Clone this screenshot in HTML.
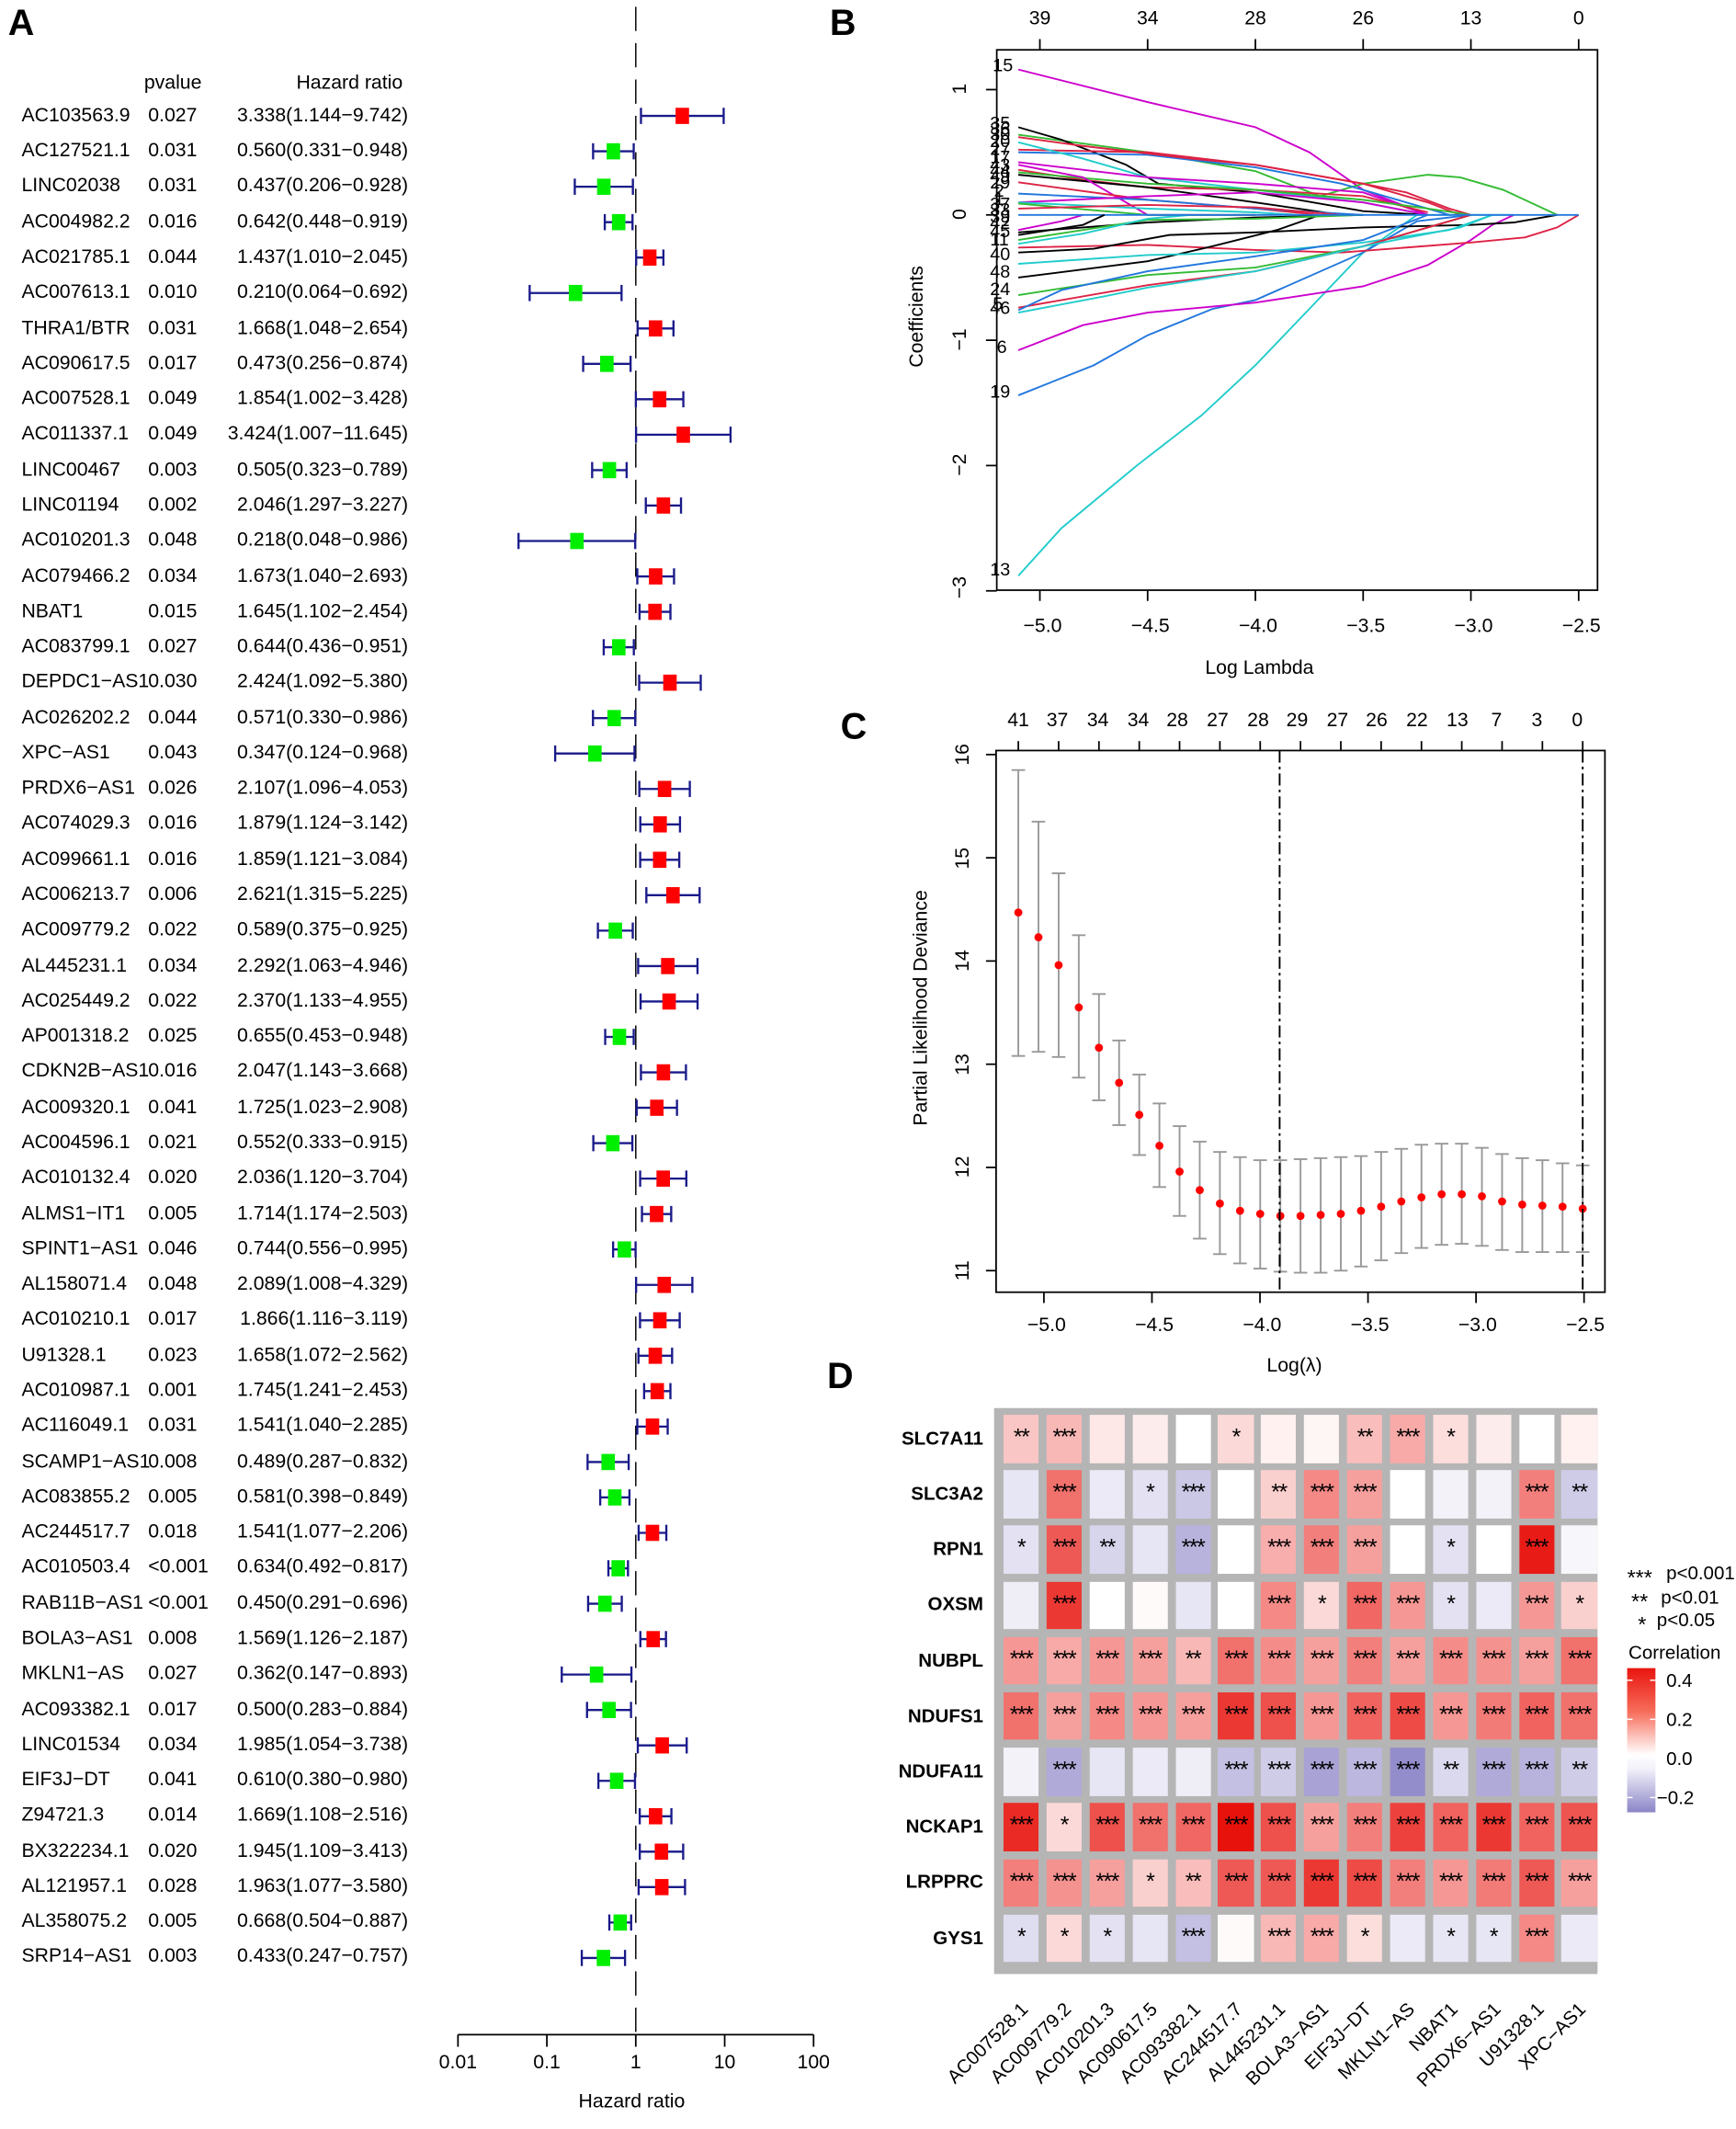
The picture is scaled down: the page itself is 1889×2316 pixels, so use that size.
<!DOCTYPE html>
<html><head><meta charset="utf-8">
<style>
html,body{margin:0;padding:0;background:#fff;}
body{width:1889px;height:2296px;overflow:hidden;position:relative;}
#pg{position:absolute;left:0;top:0;width:1300px;height:1580px;transform:scale(1.4657,1.4658);transform-origin:0 0;font-family:"Liberation Sans",Arial,sans-serif;color:#000;}
svg{position:absolute;left:0;top:0;}
#rows{position:absolute;left:0;top:72.85px;font-size:14.5px;}
#rows div{height:26.29px;line-height:26.29px;position:relative;white-space:nowrap;}
#rows span{position:absolute;}
#rows .n{left:16px;}
#rows .p{left:110px;}
#rows .h{right:-303px;}
.lbl{position:absolute;font-weight:bold;font-size:27px;}
#hm{position:absolute;left:738px;top:1045px;width:448px;height:420px;background:#b5b5b5;box-sizing:border-box;padding:5px 0 0 7px;display:grid;grid-template-columns:repeat(14,26.2px);grid-template-rows:repeat(10,35.5px);column-gap:5.7px;row-gap:5.7px;}
#hm i{font-style:normal;display:block;text-align:center;font-size:17px;line-height:34px;background:#fff;letter-spacing:-1px;overflow:hidden;}
.rl{position:absolute;right:570px;font-weight:bold;font-size:14px;width:120px;text-align:right;}
</style></head><body><div id="pg">
<svg id="sv" width="1300" height="1580" viewBox="0 0 1300 1580" font-family="Liberation Sans, Arial, sans-serif">
<g stroke="#000" stroke-width="1.2" fill="none">
<line x1="340" y1="1510" x2="604" y2="1510"/>
<line x1="340" y1="1510" x2="340" y2="1519"/><line x1="406" y1="1510" x2="406" y2="1519"/><line x1="472" y1="1510" x2="472" y2="1519"/><line x1="538" y1="1510" x2="538" y2="1519"/><line x1="604" y1="1510" x2="604" y2="1519"/>
<line x1="472" y1="5" x2="472" y2="1510" stroke-dasharray="18,9" stroke-width="1"/>
</g>
<g font-size="14.5" text-anchor="middle">
<text x="340" y="1535">0.01</text><text x="406" y="1535">0.1</text><text x="472" y="1535">1</text><text x="538" y="1535">10</text><text x="604" y="1535">100</text>
<text x="469" y="1564">Hazard ratio</text>
</g>
<text x="107" y="66" font-size="14.5">pvalue</text>
<text x="220" y="66" font-size="14.5">Hazard ratio</text>
<g id="forest"></g>

<rect x="740" y="37" width="446" height="401" fill="none" stroke="#000" stroke-width="1.2"/>
<g id="bl" fill="none" stroke-width="1.3"></g>
<g id="bt" stroke="#000" stroke-width="1.2"></g>
<g font-size="14.5" text-anchor="middle">
<text x="772" y="18">39</text><text x="852" y="18">34</text><text x="932" y="18">28</text><text x="1012" y="18">26</text><text x="1092" y="18">13</text><text x="1172" y="18">0</text>
<text x="774" y="469">−5.0</text><text x="854" y="469">−4.5</text><text x="934" y="469">−4.0</text><text x="1014" y="469">−3.5</text><text x="1094" y="469">−3.0</text><text x="1174" y="469">−2.5</text>
<text x="935" y="500">Log Lambda</text>
<text transform="translate(717,66) rotate(-90)">1</text>
<text transform="translate(717,159) rotate(-90)">0</text>
<text transform="translate(717,252) rotate(-90)">−1</text>
<text transform="translate(717,345) rotate(-90)">−2</text>
<text transform="translate(717,436) rotate(-90)">−3</text>
<text transform="translate(685,235) rotate(-90)">Coefficients</text>
</g>
<g font-size="13.5" id="blab">
<text x="737" y="53">15</text>
<text x="735" y="96">35</text><text x="735" y="100">36</text><text x="735" y="104">30</text><text x="735" y="109">20</text><text x="735" y="115">27</text><text x="735" y="121">17</text><text x="735" y="127">43</text><text x="735" y="131">44</text><text x="735" y="135">49</text><text x="735" y="140">29</text><text x="738" y="146">2</text><text x="738" y="152">1</text><text x="735" y="156">37</text><text x="735" y="160">33</text><text x="735" y="165">39</text><text x="735" y="170">42</text><text x="735" y="176">45</text><text x="735" y="182">11</text><text x="735" y="193">40</text><text x="735" y="206">48</text><text x="735" y="219">24</text><text x="737" y="230">5</text><text x="735" y="233">46</text><text x="740" y="262">6</text><text x="735" y="295">19</text><text x="735" y="427">13</text>
</g>

<rect x="739.5" y="557" width="452" height="402" fill="none" stroke="#000" stroke-width="1.2"/>
<g id="ct" stroke="#000" stroke-width="1.2"></g>
<g id="cp"></g>
<line x1="950" y1="557" x2="950" y2="959" stroke="#000" stroke-width="1.3" stroke-dasharray="9,3,2,3"/>
<line x1="1175" y1="557" x2="1175" y2="959" stroke="#000" stroke-width="1.3" stroke-dasharray="9,3,2,3"/>
<g font-size="14.5" text-anchor="middle">
<text x="756" y="539">41</text><text x="785" y="539">37</text><text x="815" y="539">34</text><text x="845" y="539">34</text><text x="874" y="539">28</text><text x="904" y="539">27</text><text x="934" y="539">28</text><text x="963" y="539">29</text><text x="993" y="539">27</text><text x="1022" y="539">26</text><text x="1052" y="539">22</text><text x="1082" y="539">13</text><text x="1111" y="539">7</text><text x="1141" y="539">3</text><text x="1171" y="539">0</text>
<text x="777" y="988">−5.0</text><text x="857" y="988">−4.5</text><text x="937" y="988">−4.0</text><text x="1017" y="988">−3.5</text><text x="1097" y="988">−3.0</text><text x="1177" y="988">−2.5</text>
<text x="961" y="1018">Log(λ)</text>
<text transform="translate(719,560) rotate(-90)">16</text>
<text transform="translate(719,637) rotate(-90)">15</text>
<text transform="translate(719,713) rotate(-90)">14</text>
<text transform="translate(719,790) rotate(-90)">13</text>
<text transform="translate(719,866) rotate(-90)">12</text>
<text transform="translate(719,943) rotate(-90)">11</text>
<text transform="translate(688,748) rotate(-90)">Partial Likelihood Deviance</text>
</g>

<g font-size="14">
<text x="1208" y="1176" font-size="16">***</text><text x="1237" y="1172">p&lt;0.001</text>
<text x="1211" y="1194" font-size="16">**</text><text x="1233" y="1190">p&lt;0.01</text>
<text x="1216" y="1211" font-size="16">*</text><text x="1230" y="1207">p&lt;0.05</text>
<text x="1209" y="1231">Correlation</text>
<text x="1237" y="1252">0.4</text><text x="1237" y="1281">0.2</text><text x="1237" y="1310">0.0</text><text x="1230" y="1339">−0.2</text>
</g>
<defs><linearGradient id="cb" x1="0" y1="0" x2="0" y2="1">
<stop offset="0" stop-color="#e8150f"/><stop offset="0.3" stop-color="#f76c5a"/><stop offset="0.6" stop-color="#fff"/><stop offset="0.7" stop-color="#f2f1fa"/><stop offset="1" stop-color="#8b85c7"/>
</linearGradient></defs>
<rect x="1208" y="1238" width="21" height="107" fill="url(#cb)"/>
<g stroke="#fff" stroke-width="1"><line x1="1208" y1="1247" x2="1212" y2="1247"/><line x1="1225" y1="1247" x2="1229" y2="1247"/><line x1="1208" y1="1276" x2="1212" y2="1276"/><line x1="1225" y1="1276" x2="1229" y2="1276"/><line x1="1208" y1="1305" x2="1212" y2="1305"/><line x1="1225" y1="1305" x2="1229" y2="1305"/><line x1="1208" y1="1334" x2="1212" y2="1334"/><line x1="1225" y1="1334" x2="1229" y2="1334"/></g>
<g font-size="14" text-anchor="end">
<text transform="translate(764,1492) rotate(-45)">AC007528.1</text>
<text transform="translate(796,1492) rotate(-45)">AC009779.2</text>
<text transform="translate(828,1492) rotate(-45)">AC010201.3</text>
<text transform="translate(860,1492) rotate(-45)">AC090617.5</text>
<text transform="translate(892,1492) rotate(-45)">AC093382.1</text>
<text transform="translate(923,1492) rotate(-45)">AC244517.7</text>
<text transform="translate(955,1492) rotate(-45)">AL445231.1</text>
<text transform="translate(987,1492) rotate(-45)">BOLA3−AS1</text>
<text transform="translate(1019,1492) rotate(-45)">EIF3J−DT</text>
<text transform="translate(1051,1492) rotate(-45)">MKLN1−AS</text>
<text transform="translate(1083,1492) rotate(-45)">NBAT1</text>
<text transform="translate(1115,1492) rotate(-45)">PRDX6−AS1</text>
<text transform="translate(1147,1492) rotate(-45)">U91328.1</text>
<text transform="translate(1178,1492) rotate(-45)">XPC−AS1</text>
</g>
</svg>

<div class="lbl" style="left:6px;top:2px">A</div>
<div class="lbl" style="left:616px;top:2px">B</div>
<div class="lbl" style="left:624px;top:524px">C</div>
<div class="lbl" style="left:614px;top:1006px">D</div>

<div id="rows">
<div><span class="n">AC103563.9</span><span class="p">0.027</span><span class="h">3.338(1.144−9.742)</span></div>
<div><span class="n">AC127521.1</span><span class="p">0.031</span><span class="h">0.560(0.331−0.948)</span></div>
<div><span class="n">LINC02038</span><span class="p">0.031</span><span class="h">0.437(0.206−0.928)</span></div>
<div><span class="n">AC004982.2</span><span class="p">0.016</span><span class="h">0.642(0.448−0.919)</span></div>
<div><span class="n">AC021785.1</span><span class="p">0.044</span><span class="h">1.437(1.010−2.045)</span></div>
<div><span class="n">AC007613.1</span><span class="p">0.010</span><span class="h">0.210(0.064−0.692)</span></div>
<div><span class="n">THRA1/BTR</span><span class="p">0.031</span><span class="h">1.668(1.048−2.654)</span></div>
<div><span class="n">AC090617.5</span><span class="p">0.017</span><span class="h">0.473(0.256−0.874)</span></div>
<div><span class="n">AC007528.1</span><span class="p">0.049</span><span class="h">1.854(1.002−3.428)</span></div>
<div><span class="n">AC011337.1</span><span class="p">0.049</span><span class="h">3.424(1.007−11.645)</span></div>
<div><span class="n">LINC00467</span><span class="p">0.003</span><span class="h">0.505(0.323−0.789)</span></div>
<div><span class="n">LINC01194</span><span class="p">0.002</span><span class="h">2.046(1.297−3.227)</span></div>
<div><span class="n">AC010201.3</span><span class="p">0.048</span><span class="h">0.218(0.048−0.986)</span></div>
<div><span class="n">AC079466.2</span><span class="p">0.034</span><span class="h">1.673(1.040−2.693)</span></div>
<div><span class="n">NBAT1</span><span class="p">0.015</span><span class="h">1.645(1.102−2.454)</span></div>
<div><span class="n">AC083799.1</span><span class="p">0.027</span><span class="h">0.644(0.436−0.951)</span></div>
<div><span class="n">DEPDC1−AS1</span><span class="p">0.030</span><span class="h">2.424(1.092−5.380)</span></div>
<div><span class="n">AC026202.2</span><span class="p">0.044</span><span class="h">0.571(0.330−0.986)</span></div>
<div><span class="n">XPC−AS1</span><span class="p">0.043</span><span class="h">0.347(0.124−0.968)</span></div>
<div><span class="n">PRDX6−AS1</span><span class="p">0.026</span><span class="h">2.107(1.096−4.053)</span></div>
<div><span class="n">AC074029.3</span><span class="p">0.016</span><span class="h">1.879(1.124−3.142)</span></div>
<div><span class="n">AC099661.1</span><span class="p">0.016</span><span class="h">1.859(1.121−3.084)</span></div>
<div><span class="n">AC006213.7</span><span class="p">0.006</span><span class="h">2.621(1.315−5.225)</span></div>
<div><span class="n">AC009779.2</span><span class="p">0.022</span><span class="h">0.589(0.375−0.925)</span></div>
<div><span class="n">AL445231.1</span><span class="p">0.034</span><span class="h">2.292(1.063−4.946)</span></div>
<div><span class="n">AC025449.2</span><span class="p">0.022</span><span class="h">2.370(1.133−4.955)</span></div>
<div><span class="n">AP001318.2</span><span class="p">0.025</span><span class="h">0.655(0.453−0.948)</span></div>
<div><span class="n">CDKN2B−AS1</span><span class="p">0.016</span><span class="h">2.047(1.143−3.668)</span></div>
<div><span class="n">AC009320.1</span><span class="p">0.041</span><span class="h">1.725(1.023−2.908)</span></div>
<div><span class="n">AC004596.1</span><span class="p">0.021</span><span class="h">0.552(0.333−0.915)</span></div>
<div><span class="n">AC010132.4</span><span class="p">0.020</span><span class="h">2.036(1.120−3.704)</span></div>
<div><span class="n">ALMS1−IT1</span><span class="p">0.005</span><span class="h">1.714(1.174−2.503)</span></div>
<div><span class="n">SPINT1−AS1</span><span class="p">0.046</span><span class="h">0.744(0.556−0.995)</span></div>
<div><span class="n">AL158071.4</span><span class="p">0.048</span><span class="h">2.089(1.008−4.329)</span></div>
<div><span class="n">AC010210.1</span><span class="p">0.017</span><span class="h">1.866(1.116−3.119)</span></div>
<div><span class="n">U91328.1</span><span class="p">0.023</span><span class="h">1.658(1.072−2.562)</span></div>
<div><span class="n">AC010987.1</span><span class="p">0.001</span><span class="h">1.745(1.241−2.453)</span></div>
<div><span class="n">AC116049.1</span><span class="p">0.031</span><span class="h">1.541(1.040−2.285)</span></div>
<div><span class="n">SCAMP1−AS1</span><span class="p">0.008</span><span class="h">0.489(0.287−0.832)</span></div>
<div><span class="n">AC083855.2</span><span class="p">0.005</span><span class="h">0.581(0.398−0.849)</span></div>
<div><span class="n">AC244517.7</span><span class="p">0.018</span><span class="h">1.541(1.077−2.206)</span></div>
<div><span class="n">AC010503.4</span><span class="p">&lt;0.001</span><span class="h">0.634(0.492−0.817)</span></div>
<div><span class="n">RAB11B−AS1</span><span class="p">&lt;0.001</span><span class="h">0.450(0.291−0.696)</span></div>
<div><span class="n">BOLA3−AS1</span><span class="p">0.008</span><span class="h">1.569(1.126−2.187)</span></div>
<div><span class="n">MKLN1−AS</span><span class="p">0.027</span><span class="h">0.362(0.147−0.893)</span></div>
<div><span class="n">AC093382.1</span><span class="p">0.017</span><span class="h">0.500(0.283−0.884)</span></div>
<div><span class="n">LINC01534</span><span class="p">0.034</span><span class="h">1.985(1.054−3.738)</span></div>
<div><span class="n">EIF3J−DT</span><span class="p">0.041</span><span class="h">0.610(0.380−0.980)</span></div>
<div><span class="n">Z94721.3</span><span class="p">0.014</span><span class="h">1.669(1.108−2.516)</span></div>
<div><span class="n">BX322234.1</span><span class="p">0.020</span><span class="h">1.945(1.109−3.413)</span></div>
<div><span class="n">AL121957.1</span><span class="p">0.028</span><span class="h">1.963(1.077−3.580)</span></div>
<div><span class="n">AL358075.2</span><span class="p">0.005</span><span class="h">0.668(0.504−0.887)</span></div>
<div><span class="n">SRP14−AS1</span><span class="p">0.003</span><span class="h">0.433(0.247−0.757)</span></div>
</div>

<div class="rl" style="top:1059px">SLC7A11</div>
<div class="rl" style="top:1100px">SLC3A2</div>
<div class="rl" style="top:1141px">RPN1</div>
<div class="rl" style="top:1182px">OXSM</div>
<div class="rl" style="top:1224px">NUBPL</div>
<div class="rl" style="top:1265px">NDUFS1</div>
<div class="rl" style="top:1306px">NDUFA11</div>
<div class="rl" style="top:1347px">NCKAP1</div>
<div class="rl" style="top:1388px">LRPPRC</div>
<div class="rl" style="top:1430px">GYS1</div>

<div id="hm">
<i>**</i><i>***</i><i></i><i></i><i></i><i>*</i><i></i><i></i><i>**</i><i>***</i><i>*</i><i></i><i></i><i></i>
<i></i><i>***</i><i></i><i>*</i><i>***</i><i></i><i>**</i><i>***</i><i>***</i><i></i><i></i><i></i><i>***</i><i>**</i>
<i>*</i><i>***</i><i>**</i><i></i><i>***</i><i></i><i>***</i><i>***</i><i>***</i><i></i><i>*</i><i></i><i>***</i><i></i>
<i></i><i>***</i><i></i><i></i><i></i><i></i><i>***</i><i>*</i><i>***</i><i>***</i><i>*</i><i></i><i>***</i><i>*</i>
<i>***</i><i>***</i><i>***</i><i>***</i><i>**</i><i>***</i><i>***</i><i>***</i><i>***</i><i>***</i><i>***</i><i>***</i><i>***</i><i>***</i>
<i>***</i><i>***</i><i>***</i><i>***</i><i>***</i><i>***</i><i>***</i><i>***</i><i>***</i><i>***</i><i>***</i><i>***</i><i>***</i><i>***</i>
<i></i><i>***</i><i></i><i></i><i></i><i>***</i><i>***</i><i>***</i><i>***</i><i>***</i><i>**</i><i>***</i><i>***</i><i>**</i>
<i>***</i><i>*</i><i>***</i><i>***</i><i>***</i><i>***</i><i>***</i><i>***</i><i>***</i><i>***</i><i>***</i><i>***</i><i>***</i><i>***</i>
<i>***</i><i>***</i><i>***</i><i>*</i><i>**</i><i>***</i><i>***</i><i>***</i><i>***</i><i>***</i><i>***</i><i>***</i><i>***</i><i>***</i>
<i>*</i><i>*</i><i>*</i><i></i><i>***</i><i></i><i>***</i><i>***</i><i>*</i><i></i><i>*</i><i>*</i><i>***</i><i></i>
</div>
</div>
<script>
var NS="http://www.w3.org/2000/svg";
function el(p,t,a){var e=document.createElementNS(NS,t);for(var k in a)e.setAttribute(k,a[k]);p.appendChild(e);return e;}
var F=[[3.338,1.144,9.742],[0.560,0.331,0.948],[0.437,0.206,0.928],[0.642,0.448,0.919],[1.437,1.010,2.045],[0.210,0.064,0.692],[1.668,1.048,2.654],[0.473,0.256,0.874],[1.854,1.002,3.428],[3.424,1.007,11.645],[0.505,0.323,0.789],[2.046,1.297,3.227],[0.218,0.048,0.986],[1.673,1.040,2.693],[1.645,1.102,2.454],[0.644,0.436,0.951],[2.424,1.092,5.380],[0.571,0.330,0.986],[0.347,0.124,0.968],[2.107,1.096,4.053],[1.879,1.124,3.142],[1.859,1.121,3.084],[2.621,1.315,5.225],[0.589,0.375,0.925],[2.292,1.063,4.946],[2.370,1.133,4.955],[0.655,0.453,0.948],[2.047,1.143,3.668],[1.725,1.023,2.908],[0.552,0.333,0.915],[2.036,1.120,3.704],[1.714,1.174,2.503],[0.744,0.556,0.995],[2.089,1.008,4.329],[1.866,1.116,3.119],[1.658,1.072,2.562],[1.745,1.241,2.453],[1.541,1.040,2.285],[0.489,0.287,0.832],[0.581,0.398,0.849],[1.541,1.077,2.206],[0.634,0.492,0.817],[0.450,0.291,0.696],[1.569,1.126,2.187],[0.362,0.147,0.893],[0.500,0.283,0.884],[1.985,1.054,3.738],[0.610,0.380,0.980],[1.669,1.108,2.516],[1.945,1.109,3.413],[1.963,1.077,3.580],[0.668,0.504,0.887],[0.433,0.247,0.757]];
var fg=document.getElementById('forest');
function fx(v){return 472+66*Math.log10(v);}
F.forEach(function(r,i){var y=86+26.29*i;var a=fx(r[1]),b=fx(r[2]),c=fx(r[0]);
el(fg,'line',{x1:a,y1:y,x2:b,y2:y,stroke:'#1a1a8a','stroke-width':1.6});
el(fg,'line',{x1:a,y1:y-6,x2:a,y2:y+6,stroke:'#1a1a8a','stroke-width':1.6});
el(fg,'line',{x1:b,y1:y-6,x2:b,y2:y+6,stroke:'#1a1a8a','stroke-width':1.6});
el(fg,'rect',{x:c-5,y:y-6,width:10,height:12,fill:r[0]>1?'#ff0000':'#00ee00'});});
function BX(l){return 772+(l+5)*160;}function BY(c){return 159.5-c*93;}
var bt=document.getElementById('bt');
[-5,-4.5,-4,-3.5,-3,-2.5].forEach(function(l){var x=BX(l);el(bt,'line',{x1:x,y1:438,x2:x,y2:446});el(bt,'line',{x1:x,y1:37,x2:x,y2:29});});
[1,0,-1,-2,-3].forEach(function(c){var y=BY(c);el(bt,'line',{x1:740,y1:y,x2:732,y2:y});});
var L=[
['#cc00cc',[[-5.1,1.16],[-4.5,0.9],[-4,0.7],[-3.75,0.5],[-3.5,0.2],[-3.2,0]]],
['#22cccc',[[-5.1,-2.88],[-4.9,-2.5],[-4.55,-2],[-4.25,-1.6],[-4,-1.2],[-3.75,-0.75],[-3.5,-0.3],[-3.25,0],[-2.8,0]]],
['#2277dd',[[-5.1,-1.44],[-4.75,-1.2],[-4.5,-0.96],[-4.2,-0.75],[-4,-0.68],[-3.5,-0.3],[-3.25,-0.05],[-3,0]]],
['#cc00cc',[[-5.1,-1.08],[-4.8,-0.88],[-4.5,-0.78],[-4,-0.7],[-3.5,-0.57],[-3.2,-0.4],[-3,-0.2],[-2.9,-0.08],[-2.8,0]]],
['#33bb33',[[-5.1,0.64],[-4.5,0.5],[-4,0.35],[-3.7,0.15],[-3.5,0.25],[-3.2,0.32],[-3.05,0.3],[-2.85,0.2],[-2.6,0]]],
['#dd2244',[[-5.1,-0.26],[-4.5,-0.24],[-4,-0.28],[-3.6,-0.3],[-3,-0.22],[-2.75,-0.18],[-2.6,-0.1],[-2.5,0]]],
['#000',[[-5.1,-0.14],[-4.5,-0.06],[-4,-0.02],[-3.5,0]]],
['#000',[[-5.1,-0.3],[-4.75,-0.27],[-4.4,-0.16],[-4,-0.14],[-3.5,-0.1],[-3,-0.08],[-2.8,-0.06],[-2.6,0]]],
['#000',[[-5.1,-0.5],[-4.5,-0.37],[-4.2,-0.25],[-3.9,-0.12],[-3.7,0]]],
['#000',[[-5.1,0.7],[-4.9,0.6],[-4.6,0.4],[-4.45,0.25],[-4,0.18],[-3.5,0.03],[-3.2,0]]],
['#22cccc',[[-5.1,-0.39],[-4.5,-0.32],[-4,-0.3],[-3.5,-0.22],[-3.1,-0.12],[-2.9,0]]],
['#33bb33',[[-5.1,-0.64],[-4.5,-0.48],[-4,-0.42],[-3.5,-0.25],[-3.2,-0.1],[-3,0]]],
['#dd2244',[[-5.1,-0.74],[-4.5,-0.56],[-4,-0.45],[-3.5,-0.25],[-3.2,-0.1],[-3,0]]],
['#22cccc',[[-5.1,-0.78],[-4.7,-0.65],[-4.5,-0.58],[-4,-0.45],[-3.5,-0.25],[-3.05,-0.1],[-2.9,0]]],
['#2277dd',[[-5.1,-0.76],[-4.9,-0.6],[-4.5,-0.45],[-4,-0.33],[-3.5,-0.2],[-3.2,0]]],
['#dd2244',[[-5.1,0.52],[-4.5,0.5],[-4,0.4],[-3.5,0.25],[-3.3,0.18],[-3.1,0.05],[-3,0]]],
['#2277dd',[[-5.1,0.5],[-4.5,0.48],[-4,0.38],[-3.6,0.25],[-3.3,0.1],[-3.1,0]]],
['#dd2244',[[-5.1,0.62],[-4.8,0.55],[-4.3,0.45],[-4,0.4],[-3.5,0.25],[-3.2,0.1],[-3.05,0]]],
['#22cccc',[[-5.1,0.58],[-4.8,0.45],[-4.5,0.3],[-4,0.2],[-3.5,0.1],[-3.2,0]]],
['#cc00cc',[[-5.1,0.42],[-4.5,0.3],[-4,0.25],[-3.5,0.18],[-3.2,0]]],
['#dd2244',[[-5.1,0.36],[-4.8,0.28],[-4.5,0.22],[-4,0.2],[-3.5,0.15],[-3.2,0.02]]],
['#33bb33',[[-5.1,0.34],[-4.5,0.25],[-4,0.2],[-3.5,0.12],[-3.2,0.05],[-3,0]]],
['#000',[[-5.1,0.32],[-4.5,0.22],[-4,0.1],[-3.6,0]]],
['#cc00cc',[[-5.1,0.4],[-4.8,0.3],[-4.5,0],[-4,0]]],
['#dd2244',[[-5.1,0.26],[-4.5,0.12],[-4,0.05],[-3.7,0]]],
['#2277dd',[[-5.1,0.17],[-4.5,0.12],[-4,0.05],[-3.5,0]]],
['#cc00cc',[[-5.1,0.1],[-4.5,0.15],[-4,0.18],[-3.5,0.1],[-3.2,0]]],
['#22cccc',[[-5.1,0.1],[-4.5,0.05],[-4,0.02],[-3.8,0]]],
['#33bb33',[[-5.1,0.09],[-4.5,0],[-4,0]]],
['#dd2244',[[-5.1,0.05],[-4.5,0.08],[-4,0.06],[-3.6,0]]],
['#cc00cc',[[-5.1,-0.12],[-4.9,-0.05],[-4.8,0]]],
['#33bb33',[[-5.1,-0.2],[-4.8,-0.12],[-4.5,-0.04],[-4,-0.03],[-3.5,0]]],
['#22cccc',[[-5.1,-0.23],[-4.8,-0.15],[-4.5,-0.03],[-4.3,0]]],
['#2277dd',[[-5.1,0],[-2.5,0]]],
['#000',[[-5.1,-0.16],[-4.8,-0.08],[-4.7,0]]]];
var bl=document.getElementById('bl');
L.forEach(function(s){el(bl,'polyline',{points:s[1].map(function(p){return BX(p[0]).toFixed(1)+','+BY(p[1]).toFixed(1);}).join(' '),stroke:s[0]});});
function CX(i){return 756+i*(1175-756)/28;}function CY(d){return 560+(16-d)*76.6;}
var ct=document.getElementById('ct');
[-5,-4.5,-4,-3.5,-3,-2.5].forEach(function(l){var x=775+(l+5)*160.4;el(ct,'line',{x1:x,y1:959,x2:x,y2:967});});
for(var k=0;k<15;k++){var x=CX(2*k);el(ct,'line',{x1:x,y1:557,x2:x,y2:550});}
[16,15,14,13,12,11].forEach(function(d){el(ct,'line',{x1:739.5,y1:CY(d),x2:732,y2:CY(d)});});
var C=[[14.47,15.85,13.08],[14.23,15.35,13.12],[13.96,14.85,13.07],[13.55,14.25,12.87],[13.16,13.68,12.65],[12.82,13.23,12.41],[12.51,12.9,12.12],[12.21,12.62,11.81],[11.96,12.4,11.53],[11.78,12.25,11.31],[11.65,12.15,11.16],[11.58,12.1,11.07],[11.55,12.07,11.02],[11.53,12.07,10.99],[11.53,12.08,10.98],[11.54,12.09,10.98],[11.55,12.1,11.0],[11.58,12.11,11.04],[11.62,12.15,11.1],[11.67,12.18,11.17],[11.71,12.22,11.22],[11.74,12.23,11.25],[11.74,12.23,11.26],[11.72,12.19,11.24],[11.67,12.13,11.2],[11.64,12.09,11.18],[11.63,12.07,11.18],[11.62,12.04,11.18],[11.60,12.02,11.18]];
var cp=document.getElementById('cp');
C.forEach(function(r,i){var x=CX(i);var g={stroke:'#999','stroke-width':1.3};
el(cp,'line',Object.assign({x1:x,y1:CY(r[1]),x2:x,y2:CY(r[2])},g));
el(cp,'line',Object.assign({x1:x-5,y1:CY(r[1]),x2:x+5,y2:CY(r[1])},g));
el(cp,'line',Object.assign({x1:x-5,y1:CY(r[2]),x2:x+5,y2:CY(r[2])},g));
el(cp,'circle',{cx:x,cy:CY(r[0]),r:3,fill:'#ff0000'});});
var V=[[.12,.15,.05,.04,0,.08,.03,.02,.14,.18,.07,.04,0,.03],
[-.06,.3,-.05,-.07,-.13,0,.1,.25,.2,0,-.03,-.03,.27,-.12],
[-.07,.35,-.1,-.06,-.18,0,.17,.27,.2,0,-.07,0,.48,-.02],
[-.04,.42,0,.01,-.06,0,.25,.08,.32,.22,-.07,-.05,.22,.1],
[.22,.18,.22,.2,.15,.3,.24,.2,.27,.2,.24,.23,.2,.3],
[.3,.2,.25,.22,.2,.42,.37,.22,.33,.38,.22,.28,.33,.3],
[-.03,-.2,-.06,-.05,-.04,-.15,-.12,-.22,-.17,-.27,-.09,-.2,-.18,-.12],
[.45,.08,.37,.3,.32,.5,.37,.2,.27,.4,.33,.42,.33,.36],
[.27,.23,.2,.1,.14,.35,.35,.42,.38,.27,.22,.28,.35,.2],
[-.08,.08,-.07,-.06,-.15,.01,.15,.18,.07,-.05,-.06,-.06,.25,-.05]];
function col(v){var a,b,t;if(v>=0){t=Math.min(v/0.5,1);a=[255,255,255];b=[232,18,12];}else{t=Math.min(-v/0.3,1);a=[255,255,255];b=[136,128,198];}
return 'rgb('+[0,1,2].map(function(j){return Math.round(a[j]+(b[j]-a[j])*t);}).join(',')+')';}
var cells=document.querySelectorAll('#hm i');
cells.forEach(function(c,i){c.style.background=col(V[Math.floor(i/14)][i%14]);});
</script>
</body></html>
